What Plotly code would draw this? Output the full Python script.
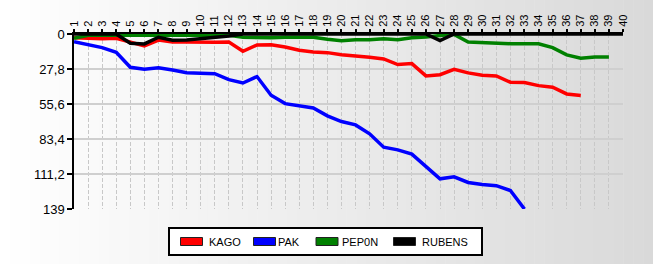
import plotly.graph_objects as go

# ---------------- data ----------------
rounds = list(range(1, 41))
x_tick_labels = [str(r) for r in rounds]
y_tick_values = [0, 27.8, 55.6, 83.4, 111.2, 139]
y_tick_labels = ["0", "27,8", "55,6", "83,4", "111,2", "139"]

series_names = ["KAGO", "PAK", "PEP0N", "RUBENS"]
series_colors = ["#ff0000", "#0000ff", "#008000", "#000000"]

kago = [2.9, 3.4, 3.7, 3.4, 6.6, 9.5, 4.8, 6.3, 6.3, 6.6, 6.6, 6.3, 13.7, 8.7, 8.5,
        10.3, 12.9, 14.3, 14.8, 16.4, 17.2, 18.5, 19.8, 24.3, 23.5, 33.3, 32.3, 28.0,
        30.9, 32.8, 33.3, 38.3, 38.6, 41.0, 42.3, 47.6, 48.9]
pak = [6.1, 8.2, 10.8, 14.5, 26.4, 28.0, 26.8, 28.6, 30.7, 31.2, 31.5, 36.2, 38.9,
       33.8, 48.6, 55.3, 56.8, 58.7, 65.0, 69.5, 72.2, 79.3, 89.9, 92.0, 95.4, 105.2,
       115.0, 113.4, 117.9, 119.5, 120.5, 124.3, 139.0]
pep0n = [3.5, 1.0, 1.0, 1.0, 1.0, 1.0, 1.0, 1.0, 1.0, 1.0, 1.0, 1.0, 2.6, 3.0, 3.0,
         2.6, 2.6, 2.6, 4.2, 5.3, 4.5, 4.5, 3.7, 4.5, 2.9, 2.4, 1.2, 0.3, 6.3, 6.9,
         6.9, 7.7, 7.7, 7.7, 10.8, 16.6, 19.3, 18.2, 18.2]
rubens = [0, 0, 0, 0, 7.4, 7.9, 2.6, 5.0, 4.8, 3.9, 2.9, 1.6, 0, 0, 0, 0, 0, 0, 0, 0,
          0, 0, 0, 0, 0, 0, 5.3, 0, 0, 0, 0, 0, 0, 0, 0, 0, 0, 0, 0, 0]
series_values = [kago, pak, pep0n, rubens]

# ---------------- layout geometry ----------------
W, H = 653, 264
L, R, T, B = 74, 30, 34, 55
PW = W - L - R
PH = H - T - B


def px(x):
    return (x - L) / PW


def py(y):
    return (H - B - y) / PH


FONT = "Liberation Sans, Arial, sans-serif"

fig = go.Figure()
for name, color, vals in zip(series_names, series_colors, series_values):
    fig.add_trace(go.Scatter(
        x=rounds[:len(vals)], y=vals, mode="lines", name=name,
        line=dict(color=color, width=3.5), showlegend=False,
    ))

shapes = []
# background gradient (style only)
n_strips = 66
sw = W / n_strips
for i in range(n_strips):
    cx = (i + 0.5) * sw
    g = round(255 - 38 * (cx / W))
    shapes.append(dict(type="rect", xref="paper", yref="paper", layer="below",
                       x0=px(i * sw), x1=px((i + 1) * sw + 0.5), y0=py(H), y1=py(0),
                       fillcolor=f"rgb({g},{g},{g})", line=dict(width=0)))

# legend box
shapes.append(dict(type="rect", xref="paper", yref="paper", layer="above",
                   x0=px(169), x1=px(482), y0=py(255), y1=py(228),
                   fillcolor="white", line=dict(color="black", width=2)))
annotations = []
rect_x = [180.5, 253.5, 316, 393.5]
text_x = [207, 275.5, 339.5, 419.5]
for name, color, rx, tx in zip(series_names, series_colors, rect_x, text_x):
    shapes.append(dict(type="rect", xref="paper", yref="paper", layer="above",
                       x0=px(rx), x1=px(rx + 22), y0=py(245.5), y1=py(237.5),
                       fillcolor=color, line=dict(color="#222222", width=1)))
    annotations.append(dict(xref="paper", yref="paper", x=px(tx), y=py(241.5),
                            xanchor="left", yanchor="middle", showarrow=False,
                            text=name, font=dict(family=FONT, size=11, color="black")))

fig.update_layout(
    width=W, height=H,
    margin=dict(l=L, r=R, t=T, b=B, pad=0),
    paper_bgcolor="white",
    plot_bgcolor="rgba(0,0,0,0)",
    font=dict(family=FONT, color="black"),
    shapes=shapes,
    annotations=annotations,
    showlegend=False,
    xaxis=dict(
        side="top", range=[1, 40], tickmode="array", tickvals=rounds,
        ticktext=x_tick_labels, tickangle=-90, tickfont=dict(size=11, family=FONT),
        ticks="outside", ticklen=3, tickwidth=2, tickcolor="black",
        showline=True, linecolor="black", linewidth=2,
        showgrid=True, gridcolor="#c8c8c8", gridwidth=1, griddash="4px,2px",
        zeroline=False, fixedrange=True,
    ),
    yaxis=dict(
        range=[139, 0], tickmode="array", tickvals=y_tick_values,
        ticktext=y_tick_labels, tickfont=dict(size=13, family=FONT),
        ticks="outside", ticklen=5, tickwidth=1.5, tickcolor="black",
        showline=True, linecolor="black", linewidth=1.5,
        showgrid=True, gridcolor="#cfcfcf", gridwidth=1.5,
        zeroline=False, fixedrange=True,
    ),
)

fig.write_html("out.html")
